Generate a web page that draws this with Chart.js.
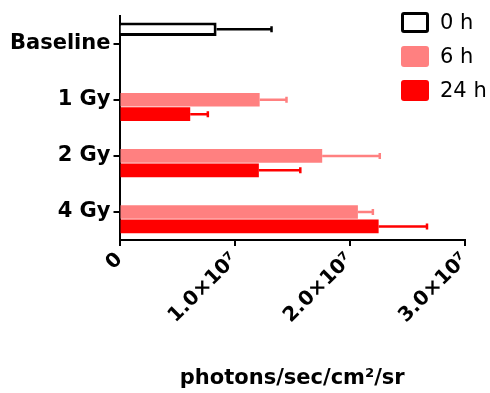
<!DOCTYPE html>
<html>
<head>
<meta charset="utf-8">
<script src="https://cdn.jsdelivr.net/npm/chart.js@4"></script>
<style>
    html, body { margin: 0; padding: 0; background: #fff; }
    #wrap { position: relative; width: 490px; height: 393px; }
    #legend { position: absolute; left: 401px; top: 5px; font-family: "DejaVu Sans", sans-serif; font-size: 21px; color: #000; }
    .legend-row { display: flex; align-items: center; height: 34px; }
    .legend-box { width: 28px; height: 21px; box-sizing: border-box; border-radius: 3px; margin-right: 11px; }
</style>
</head>
<body>
<div id="wrap">
    <canvas id="chart"></canvas>
    <div id="legend"></div>
</div>
<script>
const categories = ['Baseline', '1 Gy', '2 Gy', '4 Gy'];
const seriesLabels = ['0 h', '6 h', '24 h'];
const values0h = [0.843e7, null, null, null];
const errors0h = [0.477e7, null, null, null];
const values6h = [null, 1.217e7, 1.76e7, 2.07e7];
const errors6h = [null, 0.233e7, 0.50e7, 0.13e7];
const values24h = [null, 0.614e7, 1.21e7, 2.25e7];
const errors24h = [null, 0.153e7, 0.36e7, 0.42e7];
const xTickLabels = ['0', '1.0×10⁷', '2.0×10⁷', '3.0×10⁷'];
const xTitle = 'photons/sec/cm²/sr';

const errorBars = {
    id: 'errorBars',
    afterDatasetsDraw(chart) {
        const ctx = chart.ctx;
        const xScale = chart.scales.x;
        chart.data.datasets.forEach((ds, i) => {
            const meta = chart.getDatasetMeta(i);
            meta.data.forEach((bar, j) => {
                const v = ds.data[j];
                const e = ds.errors[j];
                if (v == null || e == null) return;
                const x0 = xScale.getPixelForValue(v);
                const x1 = xScale.getPixelForValue(v + e);
                ctx.save();
                ctx.strokeStyle = ds.errorColor;
                ctx.lineWidth = 2.5;
                ctx.beginPath();
                ctx.moveTo(x0, bar.y);
                ctx.lineTo(x1, bar.y);
                ctx.moveTo(x1, bar.y - 3);
                ctx.lineTo(x1, bar.y + 3);
                ctx.stroke();
                ctx.restore();
            });
        });
    }
};

const datasets = [
    { label: seriesLabels[0], data: values0h, errors: errors0h, backgroundColor: '#ffffff', borderColor: '#000000', borderWidth: 3, errorColor: '#000000' },
    { label: seriesLabels[1], data: values6h, errors: errors6h, backgroundColor: '#ff8080', borderWidth: 0, errorColor: '#ff8080' },
    { label: seriesLabels[2], data: values24h, errors: errors24h, backgroundColor: '#ff0000', borderWidth: 0, errorColor: '#ff0000' }
];

new Chart(document.getElementById('chart'), {
    type: 'bar',
    data: { labels: categories, datasets },
    options: {
        indexAxis: 'y',
        responsive: true,
        maintainAspectRatio: false,
        animation: false,
        layout: { padding: { left: 7, right: 25, top: 13, bottom: 2 } },
        datasets: { bar: { categoryPercentage: 0.77, barPercentage: 0.95 } },
        plugins: { legend: { display: false }, tooltip: { enabled: false } },
        scales: {
            x: {
                min: 0,
                max: 3e7,
                ticks: {
                    stepSize: 1e7,
                    maxRotation: 45,
                    minRotation: 45,
                    color: '#000',
                    padding: 2,
                    font: { family: 'DejaVu Sans', size: 20, weight: 'bold' },
                    callback: (v, i) => xTickLabels[i]
                },
                grid: { drawOnChartArea: false, drawTicks: true, tickLength: 6, color: '#000', lineWidth: 2 },
                border: { color: '#000', width: 2 },
                title: { display: true, text: xTitle, color: '#000', padding: { top: 36, bottom: 0 }, font: { family: 'DejaVu Sans', size: 21, weight: 'bold' } }
            },
            y: {
                ticks: { color: '#000', padding: 3, font: { family: 'DejaVu Sans', size: 21, weight: 'bold' } },
                grid: { offset: false, drawOnChartArea: false, drawTicks: true, tickLength: 6, color: '#000', lineWidth: 2 },
                border: { color: '#000', width: 2 }
            }
        }
    },
    plugins: [errorBars]
});

const legend = document.getElementById('legend');
datasets.forEach(ds => {
    const row = document.createElement('div');
    row.className = 'legend-row';
    const box = document.createElement('span');
    box.className = 'legend-box';
    box.style.background = ds.backgroundColor;
    if (ds.borderWidth) box.style.border = '3px solid ' + ds.borderColor;
    const txt = document.createElement('span');
    txt.textContent = ds.label;
    row.appendChild(box);
    row.appendChild(txt);
    legend.appendChild(row);
});
</script>
</body>
</html>
